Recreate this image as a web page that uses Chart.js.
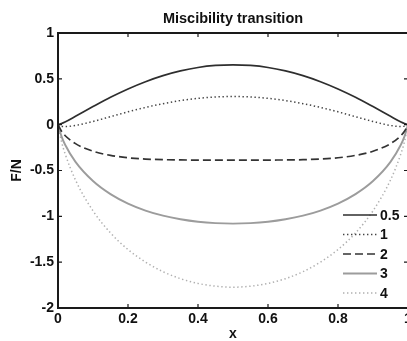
<!DOCTYPE html>
<html>
<head>
<meta charset="utf-8">
<script src="https://cdn.jsdelivr.net/npm/chart.js@4/dist/chart.umd.min.js"></script>
<style>
  html, body { margin: 0; padding: 0; background: #fff; overflow: hidden; }
  #chart { display: block; }
</style>
</head>
<body>
<canvas id="chart" width="420" height="341"></canvas>
<script>
// x positions (mole fraction)
const xValues = [0, 0.01, 0.02, 0.05, 0.1, 0.15, 0.2, 0.25, 0.3, 0.35, 0.4, 0.45, 0.5,
                 0.55, 0.6, 0.65, 0.7, 0.75, 0.8, 0.85, 0.9, 0.95, 0.98, 0.99, 1];

// F/N
const curve05 = [0, 0.012, 0.029, 0.091, 0.197, 0.299, 0.390, 0.469, 0.535, 0.586, 0.624, 0.646, 0.653,
                 0.646, 0.624, 0.586, 0.535, 0.469, 0.390, 0.299, 0.197, 0.091, 0.029, 0.012, 0];
const curve1 = [0, -0.016, -0.020, -0.009, 0.035, 0.087, 0.140, 0.188, 0.229, 0.263, 0.287, 0.302, 0.307,
                0.302, 0.287, 0.263, 0.229, 0.188, 0.140, 0.087, 0.035, -0.009, -0.020, -0.016, 0];
const curve2 = [0, -0.072, -0.118, -0.207, -0.290, -0.335, -0.361, -0.375, -0.382, -0.385, -0.386, -0.386, -0.386,
                -0.386, -0.386, -0.385, -0.382, -0.375, -0.361, -0.335, -0.290, -0.207, -0.118, -0.072, 0];
const curve3 = [0, -0.128, -0.216, -0.406, -0.615, -0.758, -0.861, -0.937, -0.993, -1.032, -1.059, -1.074, -1.079,
                -1.074, -1.059, -1.032, -0.993, -0.937, -0.861, -0.758, -0.615, -0.406, -0.216, -0.128, 0];
const curve4 = [0, -0.184, -0.314, -0.604, -0.940, -1.181, -1.362, -1.499, -1.604, -1.680, -1.732, -1.762, -1.773,
                -1.762, -1.732, -1.680, -1.604, -1.499, -1.362, -1.181, -0.940, -0.604, -0.314, -0.184, 0];

const seriesLabels = ['0.5', '1', '2', '3', '4'];
const xTicks = [0, 0.2, 0.4, 0.6, 0.8, 1];
const yTicks = [-2, -1.5, -1, -0.5, 0, 0.5, 1];

const FONT = 'Liberation Sans, Arial, sans-serif';

function toPoints(ys) {
    return xValues.map((x, i) => ({ x: x, y: ys[i] }));
}

// box + inward tick marks, matlab style
const boxPlugin = {
    id: 'box',
    afterDatasetsDraw(chart) {
        const { ctx, chartArea: a, scales } = chart;
        ctx.save();
        ctx.strokeStyle = '#1a1a1a';
        ctx.lineWidth = 1.2;
        ctx.beginPath();
        xTicks.forEach(v => {
            const px = scales.x.getPixelForValue(v);
            ctx.moveTo(px, a.top); ctx.lineTo(px, a.top + 4);
            ctx.moveTo(px, a.bottom); ctx.lineTo(px, a.bottom - 4);
        });
        yTicks.forEach(v => {
            const py = scales.y.getPixelForValue(v);
            ctx.moveTo(a.left, py); ctx.lineTo(a.left + 4, py);
            ctx.moveTo(a.right, py); ctx.lineTo(a.right - 4, py);
        });
        ctx.stroke();
        ctx.lineWidth = 2;
        ctx.strokeRect(a.left, a.top, a.right - a.left, a.bottom - a.top);
        ctx.restore();
    }
};

// legend drawn inside the axes, lower right, no frame
const insideLegend = {
    id: 'insideLegend',
    afterDraw(chart) {
        const ctx = chart.ctx;
        ctx.save();
        ctx.font = 'bold 14px ' + FONT;
        ctx.textBaseline = 'middle';
        ctx.fillStyle = '#111';
        chart.data.datasets.forEach((ds, i) => {
            const y = 215 + i * 19.5;
            ctx.strokeStyle = ds.borderColor;
            ctx.lineWidth = ds.borderWidth;
            ctx.setLineDash(ds.borderDash || []);
            ctx.beginPath();
            ctx.moveTo(343, y);
            ctx.lineTo(377, y);
            ctx.stroke();
            ctx.setLineDash([]);
            ctx.fillText(ds.label, 380, y + 1);
        });
        ctx.restore();
    }
};

const styles = [
    { color: '#2e2e2e', width: 1.7, dash: [] },
    { color: '#444444', width: 1.5, dash: [1.4, 2.6] },
    { color: '#333333', width: 1.7, dash: [8, 4] },
    { color: '#9c9c9c', width: 1.9, dash: [] },
    { color: '#b0b0b0', width: 1.5, dash: [1.4, 2.6] }
];
const curves = [curve05, curve1, curve2, curve3, curve4];

const ctx = document.getElementById('chart').getContext('2d');
new Chart(ctx, {
    type: 'scatter',
    data: {
        datasets: curves.map((c, i) => ({
            label: seriesLabels[i],
            data: toPoints(c),
            showLine: true,
            pointRadius: 0,
            borderColor: styles[i].color,
            borderWidth: styles[i].width,
            borderDash: styles[i].dash,
            cubicInterpolationMode: 'monotone'
        }))
    },
    options: {
        responsive: false,
        animation: false,
        layout: { padding: { left: 0, right: 12, top: 0, bottom: 0 } },
        plugins: {
            legend: { display: false },
            tooltip: { enabled: false },
            title: {
                display: true,
                fullSize: false,
                text: 'Miscibility transition',
                color: '#111',
                font: { family: FONT, size: 14.5, weight: 'bold' },
                padding: { top: 10, bottom: 5.6 }
            }
        },
        scales: {
            x: {
                type: 'linear',
                min: 0,
                max: 1,
                afterBuildTicks(scale) { scale.ticks = xTicks.map(v => ({ value: v })); },
                afterFit(scale) { scale.height = 33; },
                grid: { display: false, drawTicks: false },
                border: { display: false },
                ticks: {
                    color: '#111',
                    padding: 3,
                    maxRotation: 0,
                    font: { family: FONT, size: 14, weight: 'bold' },
                    callback: v => String(v)
                },
                title: {
                    display: true,
                    text: 'x',
                    color: '#111',
                    font: { family: FONT, size: 14, weight: 'bold', lineHeight: 1 },
                    padding: { top: 0, bottom: 0 }
                }
            },
            y: {
                type: 'linear',
                min: -2,
                max: 1,
                afterBuildTicks(scale) { scale.ticks = yTicks.map(v => ({ value: v })); },
                afterFit(scale) { scale.width = 58; },
                grid: { display: false, drawTicks: false },
                border: { display: false },
                ticks: {
                    color: '#111',
                    padding: 4,
                    font: { family: FONT, size: 14, weight: 'bold' },
                    callback: v => String(v)
                },
                title: {
                    display: true,
                    text: 'F/N',
                    color: '#111',
                    font: { family: FONT, size: 14, weight: 'bold' },
                    padding: { top: 9, bottom: 0 }
                }
            }
        }
    },
    plugins: [boxPlugin, insideLegend]
});
</script>
</body>
</html>
